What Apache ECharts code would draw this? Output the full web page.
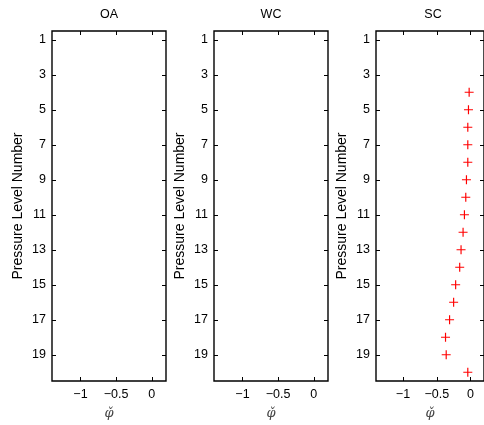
<!DOCTYPE html>
<html><head><meta charset="utf-8">
<script src="https://cdn.jsdelivr.net/npm/echarts@6/dist/echarts.min.js"></script>
<style>html,body{margin:0;padding:0;background:#fff}#c{width:484px;height:425px}</style>
</head><body><div id="c"></div>
<script>
// ---- data ----
const panelTitles = ['OA', 'WC', 'SC'];
const levelTicks = [1, 3, 5, 7, 9, 11, 13, 15, 17, 19];
const phiTicks = [-1, -0.5, 0];
const oaLevels = [];
const oaPhi = [];
const wcLevels = [];
const wcPhi = [];
const scLevels = [4, 5, 6, 7, 8, 9, 10, 11, 12, 13, 14, 15, 16, 17, 18, 19, 20];
const scPhi = [-0.02, -0.03, -0.04, -0.04, -0.04, -0.06, -0.07, -0.09, -0.11, -0.14, -0.16, -0.22, -0.25, -0.31, -0.37, -0.36, -0.04];

const panels = [[oaLevels, oaPhi], [wcLevels, wcPhi], [scLevels, scPhi]];
const FONT = "'Liberation Sans', Arial, Helvetica, sans-serif";
const panelLeft = [52, 214, 376];
const gridTop = 31, gridW = 114, gridH = 353;

const grid = [], xAxis = [], yAxis = [], series = [], graphic = [];
panels.forEach((p, i) => {
  grid.push({left: panelLeft[i], top: gridTop, width: gridW, height: gridH,
    show: true, borderColor: '#000', borderWidth: 1.4, backgroundColor: '#fff', containLabel: false});
  const common = {
    type: 'value', min: -1.4, max: 0.2, gridIndex: i,
    axisLine: {show: false, onZero: false}, splitLine: {show: false},
    axisTick: {show: true, inside: true, length: 4, customValues: phiTicks, lineStyle: {color: '#000', width: 1}}
  };
  xAxis.push(Object.assign({}, common, {
    position: 'bottom',
    axisLabel: {show: true, customValues: phiTicks, color: '#000', fontSize: 12.5, fontFamily: FONT, margin: 7,
      formatter: v => String(v).replace('-', '\u2212')},
    name: '\u03C6\u030C', nameLocation: 'middle', nameGap: 26,
    nameTextStyle: {color: '#444', fontSize: 13, fontStyle: 'italic', fontFamily: "'DejaVu Serif', serif"}
  }));
  xAxis.push(Object.assign({}, common, {position: 'top', axisLabel: {show: false}}));
  const ycommon = {
    type: 'value', min: 0.5, max: 20.5, inverse: true, gridIndex: i,
    axisLine: {show: false, onZero: false}, splitLine: {show: false},
    axisTick: {show: true, inside: true, length: 4, customValues: levelTicks, lineStyle: {color: '#000', width: 1}}
  };
  yAxis.push(Object.assign({}, ycommon, {
    position: 'left',
    axisLabel: {show: true, customValues: levelTicks, color: '#000', fontSize: 12.5, fontFamily: FONT, margin: 6},
    name: 'Pressure Level Number', nameLocation: 'middle', nameGap: 27, nameRotate: 90,
    nameTextStyle: {color: '#000', fontSize: 14, fontFamily: FONT}
  }));
  yAxis.push(Object.assign({}, ycommon, {position: 'right', axisLabel: {show: false}}));
  series.push({
    type: 'scatter', xAxisIndex: 2 * i, yAxisIndex: 2 * i,
    symbol: 'path://M4.35,0H5.65V10H4.35Z M0,4.35H10V5.65H0Z', symbolSize: 9,
    itemStyle: {color: '#ff0000', opacity: 1},
    data: p[0].map((lev, k) => [p[1][k], lev])
  });
  graphic.push({type: 'text', x: panelLeft[i] + gridW / 2, y: 15,
    style: {text: panelTitles[i], textAlign: 'center', textVerticalAlign: 'middle',
      fill: '#000', font: '12.5px ' + FONT}});
});

const chart = echarts.init(document.getElementById('c'), null, {renderer: 'canvas'});
chart.setOption({animation: false, backgroundColor: '#fff', grid, xAxis, yAxis, series, graphic});
</script>
</body></html>
